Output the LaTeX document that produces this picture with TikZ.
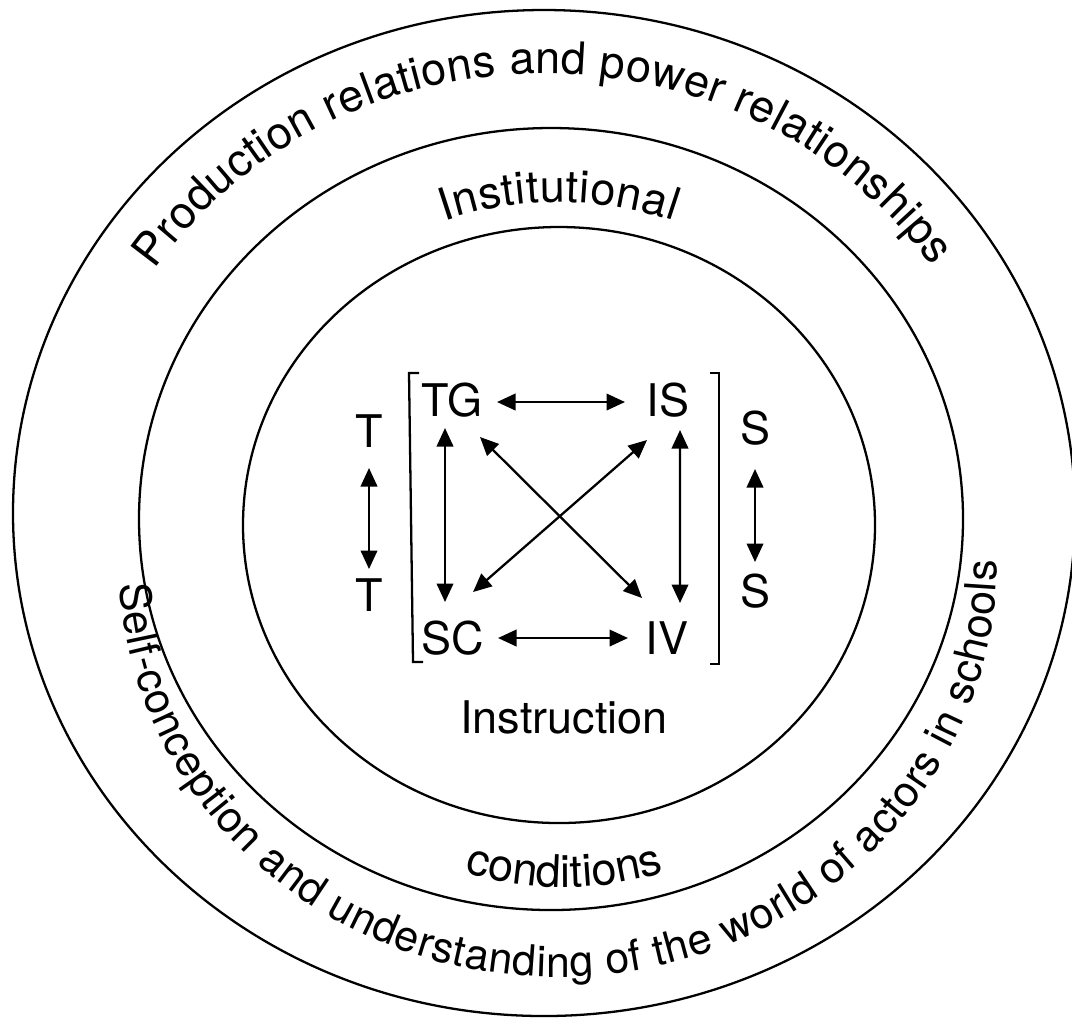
\documentclass[tikz,border=0pt]{standalone}
\usepackage{fontspec}
\setmainfont{TeX Gyre Heros}
\usepackage{tikz}
\usetikzlibrary{calc, positioning, arrows.meta, decorations.text}
\newcommand{\LblFont}{\fontsize{12.8}{15}\selectfont}
\newcommand{\RimFont}{\fontsize{12.2}{14}\selectfont}

\begin{document}
\begin{tikzpicture}[
    font=\LblFont,
    >={Triangle[length=1.85mm, width=1.65mm]},
    ring/.style={draw=black, line width=0.65pt},
    lbl/.style={inner sep=0pt, font=\LblFont},
    link/.style={<->, line width=0.65pt},
    bracket/.style={draw=black, line width=0.65pt},
    ring_text/.style={decorate, decoration={text along path, text align={fit to path}, text={|\LblFont|#1}}},
    rim_text/.style={decorate, decoration={text along path, text align={fit to path}, text={|\RimFont|#1}}}
]
    \useasboundingbox (0,0) rectangle (10.72,-10.18);

    % 1. THE THREE RINGS
    \coordinate (cOut) at (5.44,-5.13);
    \coordinate (cMid) at (5.51,-5.19);
    \coordinate (cIn)  at (5.59,-5.25);
    \draw[ring] (cOut) ellipse [x radius=5.31, y radius=5.03];
    \draw[ring] (cMid) ellipse [x radius=4.12, y radius=3.91];
    \draw[ring] (cIn)  ellipse [x radius=3.16, y radius=2.98];

    % 2. CURVED RING LABELS
    \coordinate (tOutTop) at (5.446,-5.182);
    \path[ring_text={Production relations and power relationships}]
        ($(tOutTop)+(146:4.70 and 4.45)$) arc[start angle=146, end angle=34.5, x radius=4.70, y radius=4.45];
    \coordinate (tOutBot) at (5.58,-5.61);
    \path[rim_text={Self-conception and understanding of the world of actors in schools}]
        ($(tOutBot)+(183.25:4.39 and 4.16)$) arc[start angle=183.25, end angle=360, x radius=4.39, y radius=4.16];
    \coordinate (tMidTop) at (5.59,-5.19);
    \path[ring_text={Institutional}]
        ($(tMidTop)+(110:3.35 and 3.17)$) arc[start angle=110, end angle=70, x radius=3.35, y radius=3.17];
    \coordinate (tMidBot) at (5.64,-5.74);
    \path[ring_text={conditions}]
        ($(tMidBot)+(252.5:3.30 and 3.13)$) arc[start angle=252.5, end angle=287.5, x radius=3.30, y radius=3.13];

    % 3. INSTRUCTION CORE
    \node[lbl] (TG) at (4.52,-4.00) {TG};
    \node[lbl] (IS) at (6.68,-4.00) {IS};
    \node[lbl] (SC) at (4.53,-6.38) {SC};
    \node[lbl] (IV) at (6.67,-6.38) {IV};
    \node[lbl] (Ttop) at (3.69,-4.31) {T};
    \node[lbl] (Tbot) at (3.69,-5.95) {T};
    \node[lbl] (Stop) at (7.55,-4.28) {S};
    \node[lbl] (Sbot) at (7.55,-5.91) {S};
    \node[lbl] (instr) at (5.64,-7.17) {Instruction};

    \draw[bracket] (4.19,-3.73) -- (4.09,-3.73) -- (4.13,-6.62) -- (4.23,-6.62);
    \draw[bracket] (7.10,-3.73) -- (7.19,-3.73) -- (7.19,-6.64) -- (7.10,-6.64);

    \draw[link] ($(TG)+(0.45,-0.02)$) -- ($(IS)+(-0.43,-0.02)$);
    \draw[link] ($(SC)+(0.45,0)$) -- ($(IV)+(-0.39,0)$);
    \draw[link] ($(TG)+(-0.07,-0.28)$) -- ($(SC)+(-0.08,0.36)$);
    \draw[link] ($(IS)+(0.12,-0.30)$) -- ($(IV)+(0.13,0.35)$);
    \draw[link] ($(TG)+(0.28,-0.37)$) -- ($(IV)+(-0.25,0.40)$);
    \draw[link] ($(IS)+(-0.21,-0.40)$) -- ($(SC)+(0.20,0.46)$);
    \draw[link] ($(Ttop)+(0,-0.37)$) -- ($(Tbot)+(0,0.26)$);
    \draw[link] ($(Stop)+(0,-0.41)$) -- ($(Sbot)+(0,0.29)$);

\end{tikzpicture}
\end{document}
